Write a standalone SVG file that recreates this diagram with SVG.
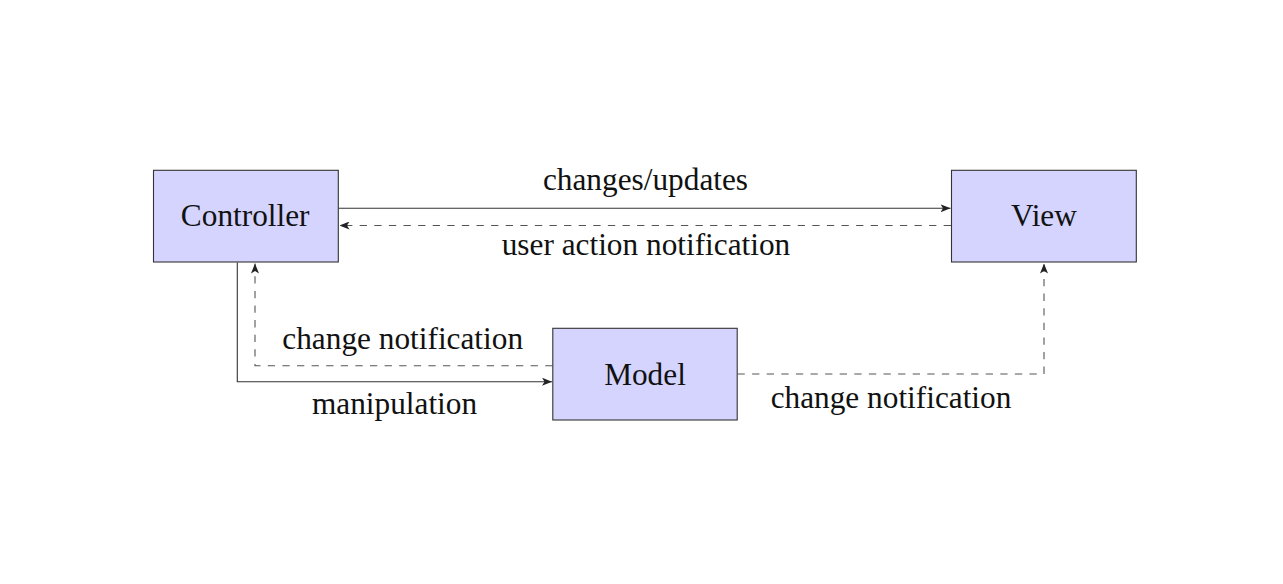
<svg xmlns="http://www.w3.org/2000/svg" width="1283" height="584" viewBox="0 0 1283 584">
<style>
.node{fill:#d4d4fe;stroke:#333;stroke-width:1.1}
.lbl{font-family:"Liberation Serif","Times New Roman",serif;font-size:31.3px;fill:#111;text-anchor:middle}
.edge{fill:none;stroke:#333;stroke-width:1.1}
.dash{stroke-dasharray:7.3 7.3;stroke:#555}
</style>
<defs>
<marker id="ah" viewBox="0 0 10 8" refX="10" refY="4" markerWidth="10" markerHeight="8" markerUnits="userSpaceOnUse" orient="auto">
<path d="M0,0 L10,4 L0,8 L2.5,4 Z" fill="#222"/>
</marker>
</defs>
<rect width="1283" height="584" fill="#fff"/>
<g id="edges">
<path class="edge" d="M338.5,208.3 H950.5" marker-end="url(#ah)"/>
<path class="edge dash" d="M951,225.5 H339.5" marker-end="url(#ah)"/>
<path class="edge" d="M237.3,262.5 V381.7 H552" marker-end="url(#ah)"/>
<path class="edge dash" d="M552.5,365.7 H255 V263.5" marker-end="url(#ah)"/>
<path class="edge dash" d="M737.5,374 H1044 V263.5" marker-end="url(#ah)"/>
<text class="lbl" x="645.5" y="190">changes/updates</text>
<text class="lbl" x="646" y="255">user action notification</text>
<text class="lbl" x="402.7" y="348.5">change notification</text>
<text class="lbl" x="394.5" y="414">manipulation</text>
<text class="lbl" x="891" y="408">change notification</text>
</g>
<g id="controller">
<rect class="node" x="153.5" y="170.3" width="184.8" height="91.7"/>
<text class="lbl" x="245.2" y="226">Controller</text>
</g>
<g id="view">
<rect class="node" x="951.5" y="170.3" width="184.8" height="91.7"/>
<text class="lbl" x="1043.9" y="226">View</text>
</g>
<g id="model">
<rect class="node" x="552.8" y="328.3" width="184.4" height="91.7"/>
<text class="lbl" x="645" y="385.3">Model</text>
</g>
</svg>
